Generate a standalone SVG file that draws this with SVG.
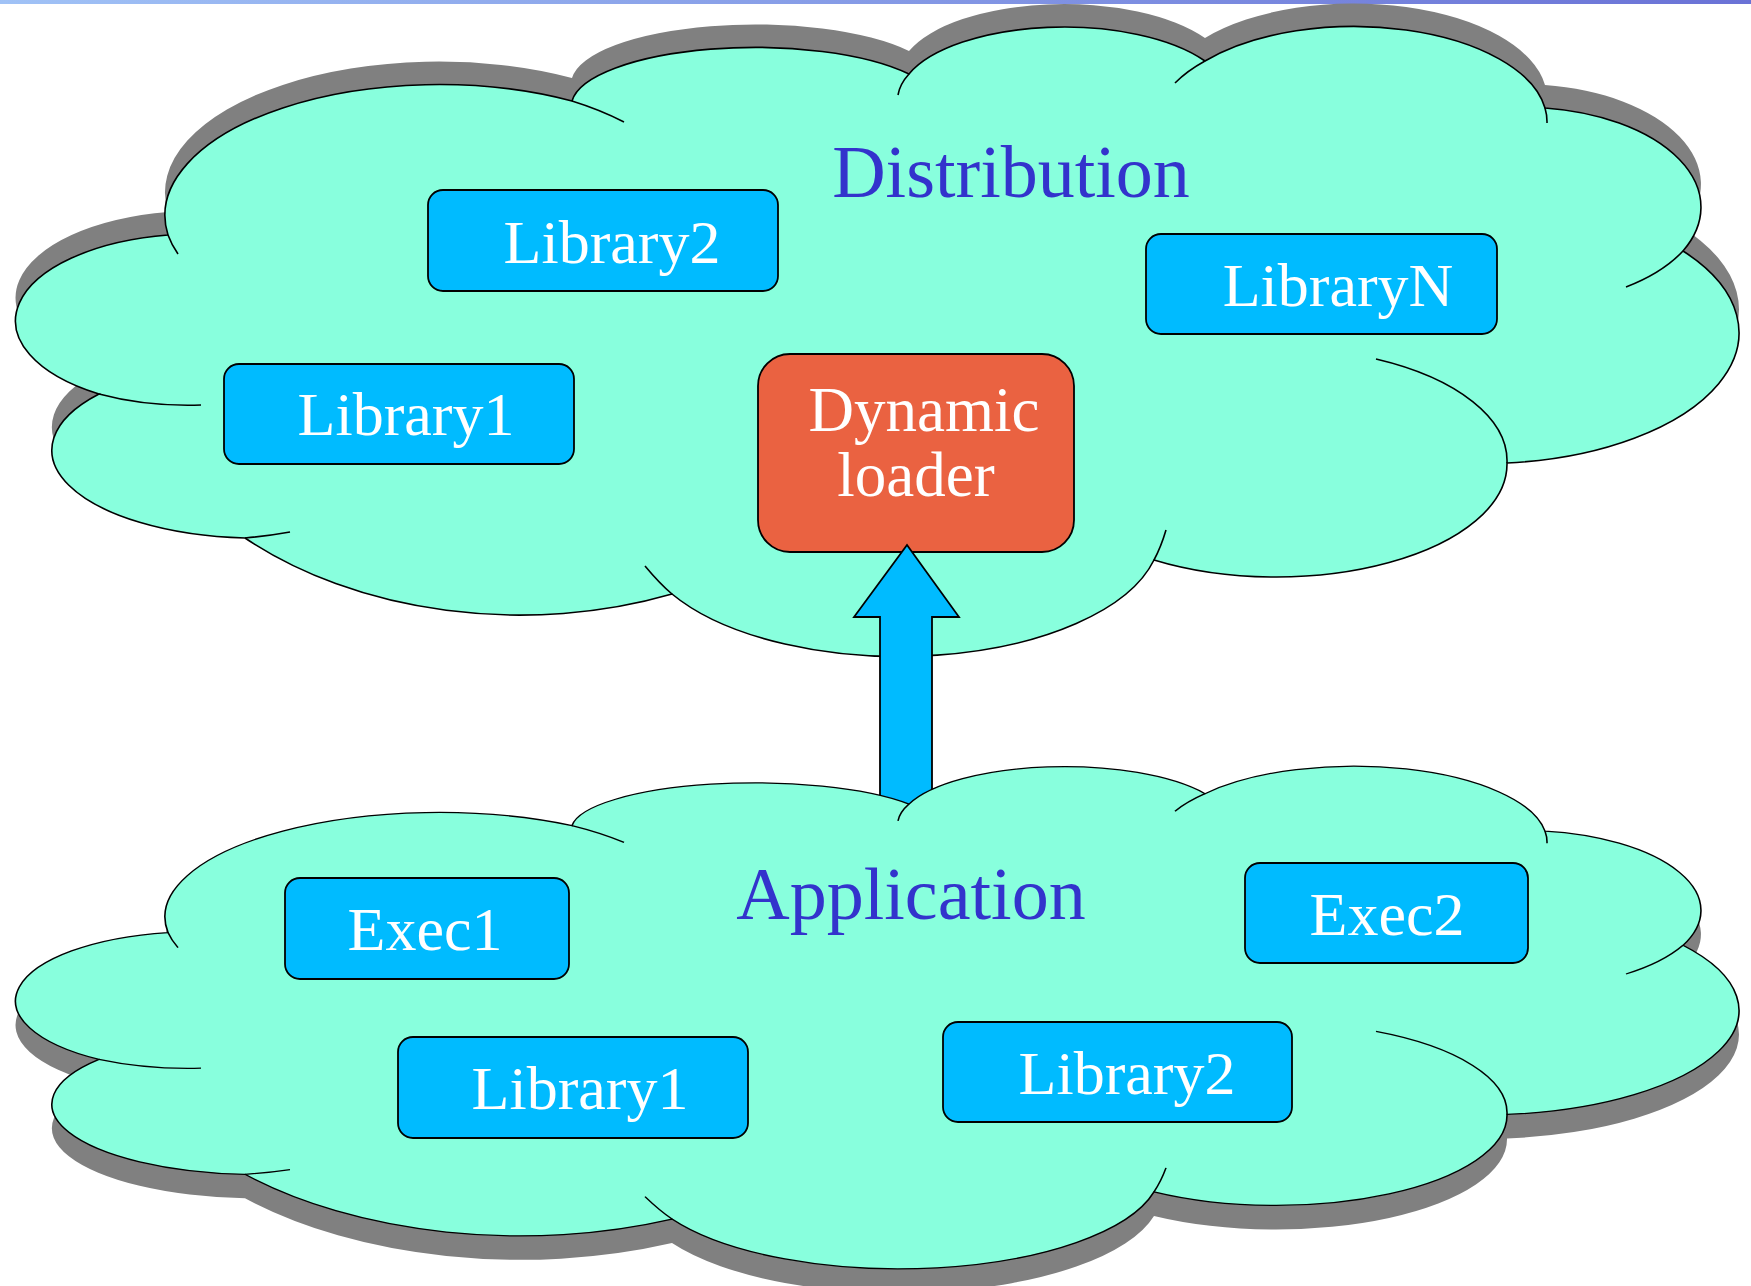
<svg xmlns="http://www.w3.org/2000/svg" xmlns:xlink="http://www.w3.org/1999/xlink" width="1751" height="1286" viewBox="0 0 1751 1286">
<style>
.cloud{fill:#88FFDD;stroke:#000;stroke-width:1.6;vector-effect:non-scaling-stroke}
.shadow{fill:#808080;stroke:none}
.tail{fill:none;stroke:#000;stroke-width:1.6;vector-effect:non-scaling-stroke}
.box{fill:#00BBFF;stroke:#000;stroke-width:1.8}
.dl{fill:#EA6241;stroke:#000;stroke-width:1.8}
.bt{font-family:"Liberation Serif","Times New Roman",serif;font-size:62px;fill:#fff;text-anchor:middle}
.tt{font-family:"Liberation Serif","Times New Roman",serif;font-size:74px;fill:#3333CC;text-anchor:middle}
.arrow{fill:#00BBFF;stroke:#000;stroke-width:1.8;stroke-linejoin:miter}
</style>
<defs>
<linearGradient id="bar" x1="0" y1="0" x2="1" y2="0">
<stop offset="0" stop-color="#A0C2F6"/>
<stop offset="1" stop-color="#6A72D6"/>
</linearGradient>
<path id="cloudShape" d="M 99 394 A 182 87 0 0 1 168 235 A 274 131 0 0 1 572 101 A 184 59 0 0 1 909 74 A 165 71 0 0 1 1205 61 A 193 95 0 0 1 1545 108 A 178 100 0 0 1 1683 251 A 257 131 0 0 1 1507 463 A 231 113 0 0 1 1154 560 A 262 125 0 0 1 672 594 A 394 272 0 0 1 245 538 A 205 88 0 0 1 99 394 Z"/>
<path id="cloudTails" d="M 201 405 A 182 87 0 0 1 99 394 M 178 254 A 274 131 0 0 1 168 235 M 572 101 A 274 131 0 0 1 624 122 M 898 95 A 165 71 0 0 1 909 74 M 1175 83 A 193 95 0 0 1 1205 61 M 1545 108 A 193 95 0 0 1 1547 123 M 1683 251 A 178 100 0 0 1 1626 287 M 1376 359 A 231 113 0 0 1 1507 463 M 1166 530 Q 1161 547 1154 560 M 645 566 Q 660 584 672 594 M 245 538 Q 268 536 290 532"/>
</defs>
<rect x="0" y="0" width="1751" height="4" fill="url(#bar)"/>
<g id="distribution">
<use xlink:href="#cloudShape" class="shadow" transform="translate(0,-23)"/>
<use xlink:href="#cloudShape" class="cloud"/>
<use xlink:href="#cloudTails" class="tail"/>
<text class="tt" x="1011" y="197">Distribution</text>
</g>
<g id="dist-library2"><rect class="box" x="428" y="190" width="350" height="101" rx="15"/><text class="bt" x="612" y="263">Library2</text></g>
<g id="dist-library1"><rect class="box" x="224" y="364" width="350" height="100" rx="15"/><text class="bt" x="406" y="435">Library1</text></g>
<g id="dist-libraryN"><rect class="box" x="1146" y="234" width="351" height="100" rx="15"/><text class="bt" x="1338" y="306">LibraryN</text></g>
<g id="dynamic-loader"><rect class="dl" x="758" y="354" width="316" height="198" rx="32"/><text class="bt" x="924" y="431" style="font-size:63px">Dynamic</text><text class="bt" x="916" y="496" style="font-size:63px">loader</text></g>
<g id="connectors">
<polygon class="arrow" points="907,545 959,617 932,617 932,840 880,840 880,617 854,617"/>
</g>
<g id="application">
<use xlink:href="#cloudShape" class="shadow" transform="translate(0,769) scale(1,0.798)"/>
<use xlink:href="#cloudShape" class="cloud" transform="translate(0,745) scale(1,0.798)"/>
<use xlink:href="#cloudTails" class="tail" transform="translate(0,745) scale(1,0.798)"/>
<text class="tt" x="911" y="919">Application</text>
</g>
<g id="app-exec1"><rect class="box" x="285" y="878" width="284" height="101" rx="15"/><text class="bt" x="425" y="950">Exec1</text></g>
<g id="app-library1"><rect class="box" x="398" y="1037" width="350" height="101" rx="15"/><text class="bt" x="580" y="1109">Library1</text></g>
<g id="app-exec2"><rect class="box" x="1245" y="863" width="283" height="100" rx="15"/><text class="bt" x="1387" y="935">Exec2</text></g>
<g id="app-library2"><rect class="box" x="943" y="1022" width="349" height="100" rx="15"/><text class="bt" x="1127" y="1094">Library2</text></g>
</svg>
